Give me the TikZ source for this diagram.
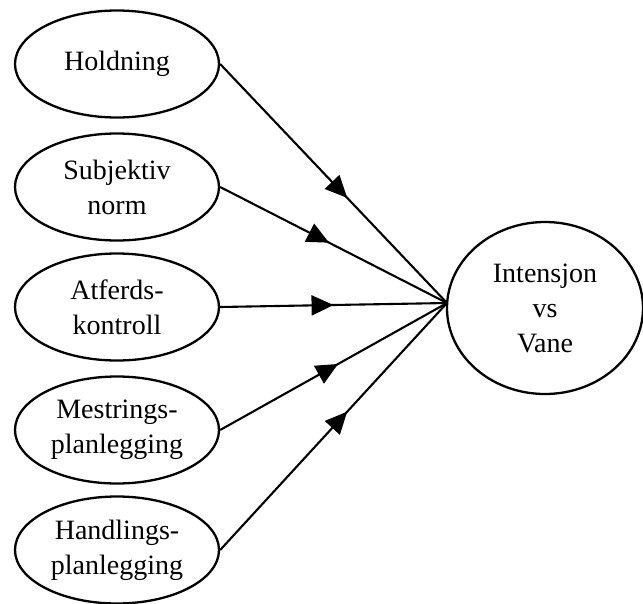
\documentclass[tikz,border=0pt]{standalone}
\usepackage{fontspec}
\setmainfont{Liberation Serif}
\usetikzlibrary{shapes.geometric,arrows.meta,decorations.markings}

\tikzset{
  factor/.style={ellipse, draw, line width=2.3pt, minimum width=204pt,
    minimum height=107pt, inner sep=0pt, align=center,
    font=\fontsize{28}{35}\selectfont},
  target/.style={factor, minimum width=196pt, minimum height=172pt},
  link/.style={line width=2.1pt, postaction={decorate, decoration={markings,
    mark=at position #1 with {\arrow{Triangle[length=22pt,width=20pt]}}}}}
}

\begin{document}
\begin{tikzpicture}[x=1pt, y=-1pt]
  \useasboundingbox (0,0) rectangle (643,603);

  % predictors on the left
  \node[factor] (hold) at (117,64)  {Holdning};
  \node[factor] (subj) at (117,187) {Subjektiv\\norm};
  \node[factor] (atf)  at (117,307) {Atferds-\\kontroll};
  \node[factor] (mest) at (117,430) {Mestrings-\\planlegging};
  \node[factor] (hand) at (117,550) {Handlings-\\planlegging};

  % outcome on the right
  \node[target] (int) at (545,308) {Intensjon\\vs\\Vane};
  \coordinate (hub) at (447,303);

  % paths converging on the outcome
  \draw[link=0.56] (hold.east) -- (hub);
  \draw[link=0.48] (subj.east) -- (hub);
  \draw[link=0.50] (atf.east)  -- (hub);
  \draw[link=0.52] (mest.east) -- (hub);
  \draw[link=0.56] (hand.east) -- (hub);
\end{tikzpicture}
\end{document}
